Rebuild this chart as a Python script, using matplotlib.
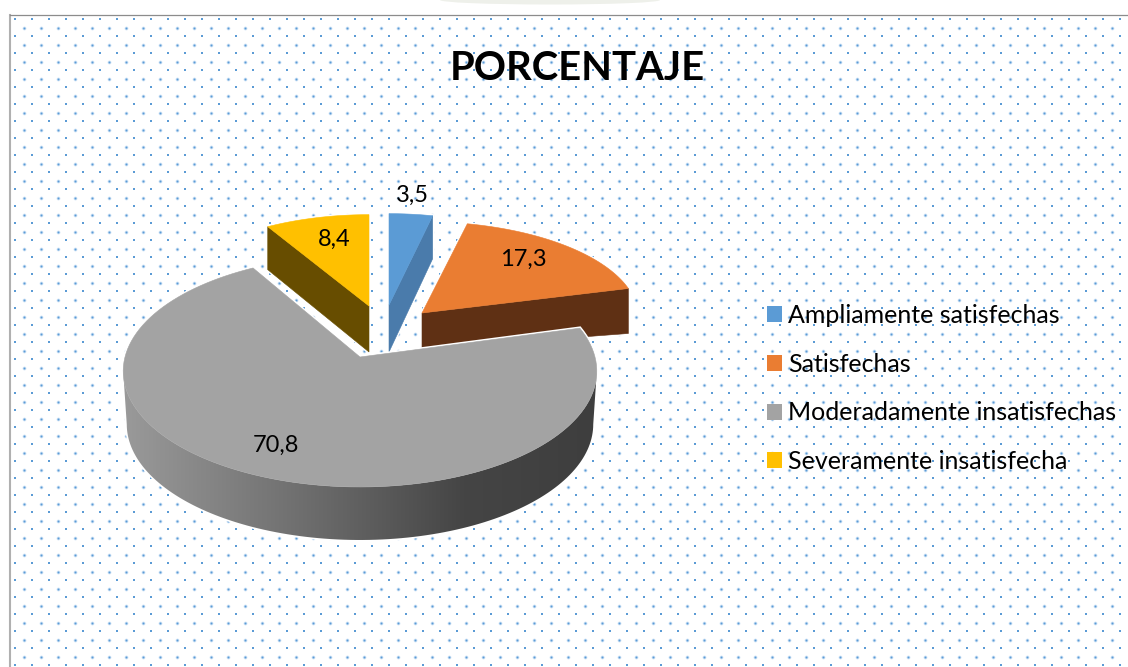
import numpy as np
import matplotlib
matplotlib.use('Agg')
import matplotlib.pyplot as plt
from matplotlib.colors import LinearSegmentedColormap
from matplotlib.patches import Polygon, Patch, Ellipse

title = 'PORCENTAJE'
categories = ['Ampliamente satisfechas', 'Satisfechas', 'Moderadamente insatisfechas', 'Severamente insatisfecha']
values = [3.5, 17.3, 70.8, 8.4]
value_labels = ['3,5', '17,3', '70,8', '8,4']

top_colors = ['#5b9bd5', '#ea7d32', '#a3a3a3', '#ffc000']
side_colors = ['#4a7bab', '#5f3014', '#707070', '#674d00']

# pixel layout of the picture
W, H = 1128, 667
cx, cy = 360, 357
shapes = [(208, 95, 0.04), (216, 95, 0.04), (235, 114, 0.123), (208, 95, 0.04)]
apex_depth = [47, 36, 53, 46]
rim_depth = [43, 45, 53, 43]
explode = [(29, -52), (62, -44), (0, 0), (9, -51)]
label_xy = [(412, 195), (523.5, 259), (275.5, 445), (334, 239)]
draw_order = [1, 0, 3, 2]

plt.rcParams['font.family'] = ['Lato', 'DejaVu Sans']

fig = plt.figure(figsize=(W / 100, H / 100), dpi=100)
ax = fig.add_axes([0, 0, 1, 1])
ax.set_xlim(0, W)
ax.set_ylim(H, 0)
ax.axis('off')


def arc(start, end, shape, n=120):
	# angles in degrees, clockwise from the top, flat disc seen in perspective
	a, b, k = shape
	t = np.radians(np.linspace(start, end, n))
	w = 1 + k * np.cos(t)
	return np.column_stack([a * np.sin(t) / w, -b * np.cos(t) / w])


def halo(points, z):
	# thin white glow around a piece
	ax.add_patch(Polygon(points, closed=True, facecolor='white', edgecolor='white', lw=2.5, zorder=z))


# dotted background
xs, ys = np.meshgrid(np.arange(15, W, 17), np.arange(19, H, 17))
ax.scatter(xs.ravel(), ys.ravel(), s=2.5, marker='s', color='#5b9bd5', linewidths=0, zorder=1)
xs, ys = np.meshgrid(np.arange(23.5, W, 17), np.arange(27.5, H, 17))
ax.scatter(xs.ravel(), ys.ravel(), s=7, marker='o', color='#c4dcf3', linewidths=0, zorder=1)
ax.scatter(xs.ravel(), ys.ravel(), s=1.8, marker='o', color='#5b9bd5', linewidths=0, zorder=1)

# chart border, open at the right and bottom
ax.plot([10, 10], [H, 15], color='#b0b0b0', lw=1.5, zorder=2)
ax.plot([10, W], [15, 15], color='#8c8c8c', lw=0.9, zorder=2)

# faint smudge over the chart
ax.add_patch(Ellipse((550, 0), 220, 9, facecolor='#eef0ea', edgecolor='none', zorder=1))

z = 3
angle = 0
edges = []
for v in values:
	edges.append((angle, angle + v * 3.6))
	angle += v * 3.6

for i in draw_order:
	start, end = edges[i]
	ox, oy = cx + explode[i][0], cy + explode[i][1]
	shape = shapes[i]
	rim = arc(start, end, shape) + [ox, oy]
	top = np.vstack([[ox, oy], rim])

	if i == 2:
		# round front wall, shaded from left to right
		turn = np.degrees(np.arcsin(shape[2]))
		front = arc(90 + turn, 270 - turn, shape)
		lower = front * [0.985, 1] + [ox, oy + rim_depth[i]]
		front = front + [ox, oy]
		wall = np.vstack([front, lower[::-1]])
		cmap = LinearSegmentedColormap.from_list('wall', [(0, '#9a9a9a'), (0.38, '#6e6e6e'), (0.72, '#454545'), (1, '#3e3e3e')])
		halo(wall, z - 0.2)
		patch = Polygon(wall, closed=True, facecolor='none', edgecolor='none', zorder=z)
		ax.add_patch(patch)
		img = ax.imshow(np.linspace(0, 1, 256).reshape(1, -1), cmap=cmap, extent=[front[:, 0].min(), front[:, 0].max(), lower[:, 1].max(), front[:, 1].min()], aspect='auto', zorder=z)
		img.set_clip_path(patch)
		ax.set_xlim(0, W)
		ax.set_ylim(H, 0)
	else:
		# flat cut face seen from the front
		p = rim[0] if i == 3 else rim[-1]
		wall = np.array([[ox, oy], p, p + [0, rim_depth[i]], [ox, oy + apex_depth[i]]])
		halo(wall, z - 0.2)
		ax.add_patch(Polygon(wall, closed=True, facecolor=side_colors[i], edgecolor=side_colors[i], lw=0.4, zorder=z))
	halo(top, z - 0.2)
	ax.add_patch(Polygon(top, closed=True, facecolor=top_colors[i], edgecolor=top_colors[i], lw=0.4, zorder=z + 0.5))
	z += 1

for text, (x, y) in zip(value_labels, label_xy):
	ax.text(x, y, text, fontsize=17, color='black', ha='center', va='center', zorder=20)

ax.text(577, 69, title, fontsize=28.8, fontweight='bold', color='black', ha='center', va='center', zorder=20)

handles = [Patch(facecolor=c, edgecolor='none') for c in top_colors]
ax.legend(handles, categories, loc='upper left', bbox_to_anchor=(767 / W, 1 - 304 / H), frameon=False,
	fontsize=18, handlelength=0.6, handleheight=0.6, handletextpad=0.24, labelspacing=1.03, borderpad=0, borderaxespad=0)

fig.savefig('out.png', dpi=100)
